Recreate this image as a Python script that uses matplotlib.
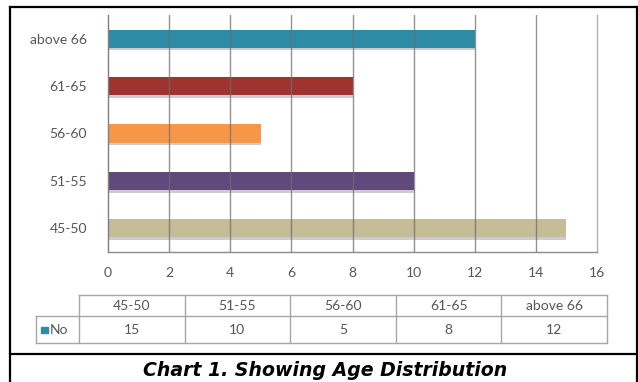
import matplotlib
matplotlib.use("Agg")
import matplotlib.pyplot as plt
import matplotlib.patheffects as pe
from matplotlib.lines import Line2D
from matplotlib.patches import Rectangle

# Age groups and number of respondents in each
categories = ["45-50", "51-55", "56-60", "61-65", "above 66"]
counts = [15, 10, 5, 8, 12]
bar_colors = ["#C4BD97", "#604A7B", "#F79646", "#A0322F", "#2E8BA5"]
series_name = "No"
series_color = "#2E8BA5"
x_ticks = [0, 2, 4, 6, 8, 10, 12, 14, 16]
caption = "Chart 1. Showing Age Distribution"

W, H = 638, 382
fig = plt.figure(figsize=(W / 100, H / 100), dpi=100)


def box(l, t, r, b):
    """Axes rectangle from pixel edges (origin top-left)."""
    return [l / W, 1 - b / H, (r - l) / W, (b - t) / H]


def fx(px):
    return px / W


def fy(py):
    return 1 - py / H


label_font = dict(family=["Lato", "DejaVu Sans"], size=10, color="#555555")

# ---- bar chart ----
ax = fig.add_axes(box(108, 15, 597, 252))
ypos = list(range(len(categories)))
bars = ax.barh(ypos, counts, height=0.38, color=bar_colors, zorder=2)
for b in bars:
    b.set_path_effects([
        pe.SimplePatchShadow(offset=(0, -2), shadow_rgbFace="#000000", alpha=0.2),
        pe.Normal(),
    ])

ax.set_xlim(0, 16)
ax.set_ylim(-0.5, len(categories) - 0.5)
ax.set_xticks(x_ticks)
ax.set_xticklabels([str(t) for t in x_ticks], **label_font)
ax.set_yticks(ypos)
ax.set_yticklabels(categories, **label_font)
ax.tick_params(axis="x", length=0, pad=11)
ax.tick_params(axis="y", length=0, pad=15)
# gridlines, faintly visible across the bars
for t in x_ticks[1:-1]:
    ax.axvline(t, color="#6E6E6E", lw=1.0, alpha=0.75, zorder=3)
ax.spines["top"].set_visible(False)
ax.spines["left"].set_color("#7F7F7F")
ax.spines["bottom"].set_color("#8C8C8C")
ax.spines["right"].set_color("#B0B0B0")
for s in ax.spines.values():
    s.set_linewidth(1.0)
    s.set_zorder(4)

# ---- data table under the chart ----
tab = fig.add_axes(box(36, 295, 607, 343))
col_w = (607 - 79) / len(categories)
lab_w = (79 - 36) / col_w
tab.set_xlim(-lab_w, len(categories))
tab.set_ylim(0, 48)
tab.axis("off")
mid = 27  # boundary between header row and value row
edge = dict(color="#A6A6A6", lw=1.0, clip_on=False)
tab.plot([0, len(categories)], [48, 48], **edge)
tab.plot([-lab_w, len(categories)], [mid, mid], **edge)
tab.plot([-lab_w, len(categories)], [0, 0], **edge)
tab.plot([-lab_w, -lab_w], [0, mid], **edge)
for i in range(len(categories) + 1):
    tab.plot([i, i], [0, 48], **edge)
for i, (c, v) in enumerate(zip(categories, counts)):
    tab.text(i + 0.5, (48 + mid) / 2, c, ha="center", va="center", **label_font)
    tab.text(i + 0.5, mid / 2, str(v), ha="center", va="center", **label_font)
# legend key in the row label cell
tab.add_patch(Rectangle((-lab_w + 0.05, mid / 2 - 3), 0.065, 6,
                        color=series_color, clip_on=False))
tab.text(-lab_w + 0.13, mid / 2, series_name, ha="left", va="center", **label_font)

# ---- frame and caption ----
frame = dict(color="black", lw=1.6, transform=fig.transFigure)
fig.add_artist(Line2D([fx(10), fx(10)], [fy(7), fy(382)], **frame))
fig.add_artist(Line2D([fx(10), fx(637)], [fy(7), fy(7)], **frame))
fig.add_artist(Line2D([fx(637), fx(637)], [fy(7), fy(382)], **frame))
fig.add_artist(Line2D([fx(10), fx(637)], [fy(354), fy(354)], **frame))

fig.text(fx(325), fy(370), caption, ha="center", va="center",
         family="DejaVu Sans", weight="bold", style="italic", size=13.6,
         color="black")

fig.savefig("out.png", dpi=100)
